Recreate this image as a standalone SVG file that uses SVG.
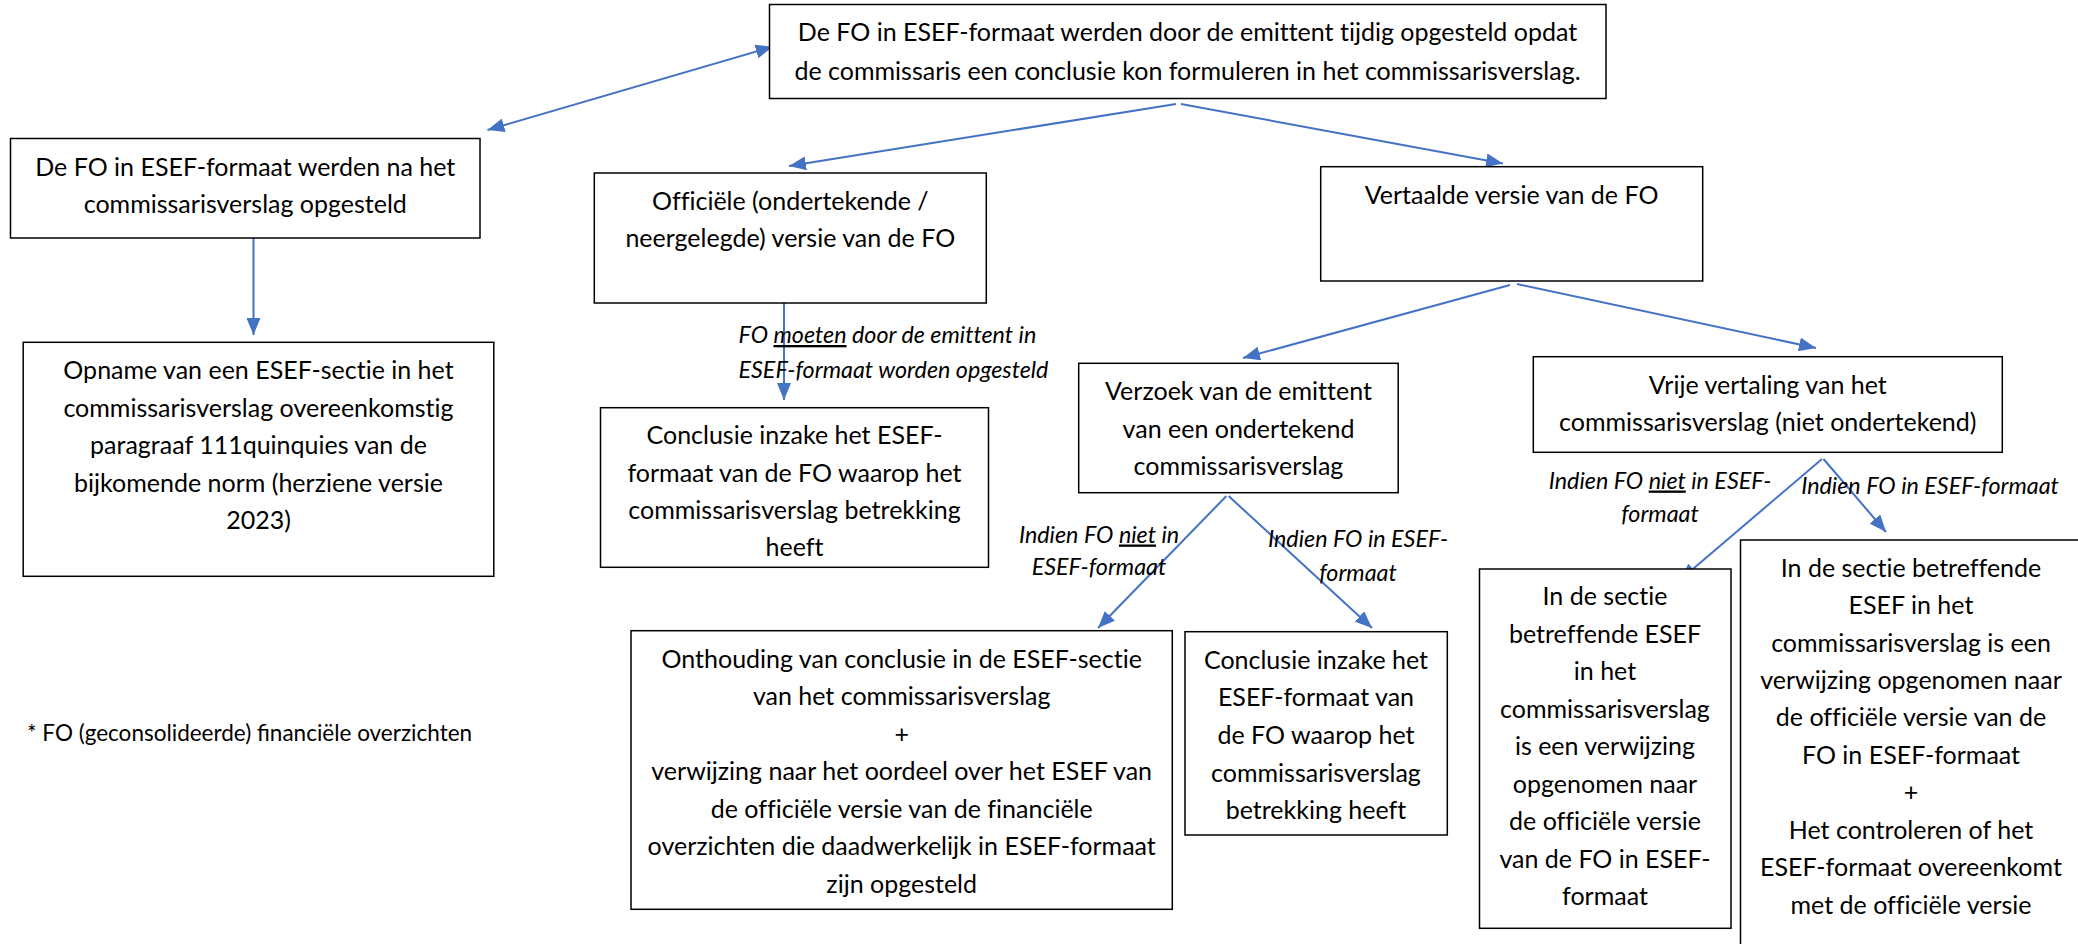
<svg xmlns="http://www.w3.org/2000/svg" width="2078" height="944" viewBox="0 0 2078 944">
<defs>
<style>
.box{fill:#fff;stroke:#000;stroke-width:1.5}
.t{font-family:Lato,"Liberation Sans",sans-serif;font-size:25px;fill:#000;text-anchor:middle;font-variant-ligatures:none}
.l{font-family:Lato,"Liberation Sans",sans-serif;font-size:23.3px;font-style:italic;fill:#000;font-variant-ligatures:none}
.c{fill:none;stroke:#4472C4;stroke-width:2}
.u{text-decoration:underline}
</style>
<marker id="ah" markerUnits="userSpaceOnUse" markerWidth="18" markerHeight="14" refX="17" refY="7" orient="auto-start-reverse">
<path d="M0,0 L17,7 L0,14 z" fill="#4472C4"/>
</marker>
</defs>
<rect width="2078" height="944" fill="#fff"/>

<g id="connectors">
<line class="c" x1="487.5" y1="130" x2="772.7" y2="46.7" marker-start="url(#ah)" marker-end="url(#ah)"/>
<line class="c" x1="1176" y1="104" x2="789" y2="166" marker-end="url(#ah)"/>
<line class="c" x1="1181" y1="104" x2="1503" y2="163.5" marker-end="url(#ah)"/>
<line class="c" x1="253.5" y1="238" x2="253.5" y2="335" marker-end="url(#ah)"/>
<line class="c" x1="784" y1="302" x2="784" y2="400" marker-end="url(#ah)"/>
<line class="c" x1="1510" y1="285" x2="1243" y2="358" marker-end="url(#ah)"/>
<line class="c" x1="1517" y1="284" x2="1816" y2="348" marker-end="url(#ah)"/>
<line class="c" x1="1226.4" y1="496" x2="1098" y2="628" marker-end="url(#ah)"/>
<line class="c" x1="1228.6" y1="496" x2="1372" y2="628" marker-end="url(#ah)"/>
<line class="c" x1="1822" y1="459" x2="1680" y2="580" marker-end="url(#ah)"/>
<line class="c" x1="1823.5" y1="459" x2="1886" y2="532" marker-end="url(#ah)"/>
</g>

<g id="labels">
<text class="l" x="738.5" y="343">FO <tspan class="u">moeten</tspan> door de emittent in</text>
<text class="l" x="738.5" y="377.5">ESEF-formaat worden opgesteld</text>
<text class="l" x="1099" y="542.5" text-anchor="middle">Indien FO <tspan class="u">niet</tspan> in</text>
<text class="l" x="1099" y="574.5" text-anchor="middle">ESEF-formaat</text>
<text class="l" x="1358" y="546.5" text-anchor="middle">Indien FO in ESEF-</text>
<text class="l" x="1358" y="580.5" text-anchor="middle">formaat</text>
<text class="l" x="1660" y="488.5" text-anchor="middle">Indien FO <tspan class="u">niet</tspan> in ESEF-</text>
<text class="l" x="1660" y="521.5" text-anchor="middle">formaat</text>
<text class="l" x="1930" y="493.5" text-anchor="middle">Indien FO in ESEF-formaat</text>
</g>

<g id="n-top">
<rect class="box" x="769.5" y="4.5" width="836.5" height="94"/>
<text class="t" x="1187.5" y="41">De FO in ESEF-formaat werden door de emittent tijdig opgesteld opdat</text>
<text class="t" x="1187.5" y="79.5">de commissaris een conclusie kon formuleren in het commissarisverslag.</text>
</g>

<g id="n-na">
<rect class="box" x="10.5" y="138.5" width="469.5" height="99.5"/>
<text class="t" x="245.3" y="175.5">De FO in ESEF-formaat werden na het</text>
<text class="t" x="245.3" y="212.5">commissarisverslag opgesteld</text>
</g>

<g id="n-opname">
<rect class="box" x="23.2" y="342.3" width="470.6" height="234"/>
<text class="t" x="258.5" y="379">Opname van een ESEF-sectie in het</text>
<text class="t" x="258.5" y="416.5">commissarisverslag overeenkomstig</text>
<text class="t" x="258.5" y="454">paragraaf 111quinquies van de</text>
<text class="t" x="258.5" y="491.5">bijkomende norm (herziene versie</text>
<text class="t" x="258.5" y="529">2023)</text>
</g>

<g id="n-officiele">
<rect class="box" x="594.3" y="173" width="392" height="130"/>
<text class="t" x="790.3" y="210">Officiële (ondertekende /</text>
<text class="t" x="790.3" y="247">neergelegde) versie van de FO</text>
</g>

<g id="n-vertaalde">
<rect class="box" x="1320.7" y="166.7" width="382" height="114.3"/>
<text class="t" x="1511.6" y="203.5">Vertaalde versie van de FO</text>
</g>

<g id="n-conclusie1">
<rect class="box" x="600.5" y="407.7" width="388" height="159.6"/>
<text class="t" x="794.5" y="444">Conclusie inzake het ESEF-</text>
<text class="t" x="794.5" y="482">formaat van de FO waarop het</text>
<text class="t" x="794.5" y="519">commissarisverslag betrekking</text>
<text class="t" x="794.5" y="556">heeft</text>
</g>

<g id="n-verzoek">
<rect class="box" x="1078.7" y="363.3" width="319.5" height="129.4"/>
<text class="t" x="1238.5" y="400">Verzoek van de emittent</text>
<text class="t" x="1238.5" y="437.5">van een ondertekend</text>
<text class="t" x="1238.5" y="475">commissarisverslag</text>
</g>

<g id="n-vrije">
<rect class="box" x="1533.3" y="356.7" width="469" height="95.6"/>
<text class="t" x="1767.8" y="393.5">Vrije vertaling van het</text>
<text class="t" x="1767.8" y="431">commissarisverslag (niet ondertekend)</text>
</g>

<g id="n-onthouding">
<rect class="box" x="631" y="630.7" width="541.3" height="278.6"/>
<text class="t" x="901.7" y="668">Onthouding van conclusie in de ESEF-sectie</text>
<text class="t" x="901.7" y="705">van het commissarisverslag</text>
<text class="t" x="901.7" y="743">+</text>
<text class="t" x="901.7" y="780">verwijzing naar het oordeel over het ESEF van</text>
<text class="t" x="901.7" y="818">de officiële versie van de financiële</text>
<text class="t" x="901.7" y="855">overzichten die daadwerkelijk in ESEF-formaat</text>
<text class="t" x="901.7" y="893">zijn opgesteld</text>
</g>

<g id="n-conclusie2">
<rect class="box" x="1185" y="631.7" width="262.3" height="203.3"/>
<text class="t" x="1316" y="668.5">Conclusie inzake het</text>
<text class="t" x="1316" y="706">ESEF-formaat van</text>
<text class="t" x="1316" y="744">de FO waarop het</text>
<text class="t" x="1316" y="782">commissarisverslag</text>
<text class="t" x="1316" y="818.5">betrekking heeft</text>
</g>

<g id="n-sectie1">
<rect class="box" x="1479.5" y="569" width="251.5" height="359.3"/>
<text class="t" x="1605" y="605">In de sectie</text>
<text class="t" x="1605" y="642.5">betreffende ESEF</text>
<text class="t" x="1605" y="680">in het</text>
<text class="t" x="1605" y="717.5">commissarisverslag</text>
<text class="t" x="1605" y="755">is een verwijzing</text>
<text class="t" x="1605" y="792.5">opgenomen naar</text>
<text class="t" x="1605" y="830">de officiële versie</text>
<text class="t" x="1605" y="867.5">van de FO in ESEF-</text>
<text class="t" x="1605" y="905">formaat</text>
</g>

<g id="n-sectie2">
<rect class="box" x="1740.5" y="540" width="360" height="420"/>
<text class="t" x="1911" y="577">In de sectie betreffende</text>
<text class="t" x="1911" y="614">ESEF in het</text>
<text class="t" x="1911" y="652">commissarisverslag is een</text>
<text class="t" x="1911" y="689">verwijzing opgenomen naar</text>
<text class="t" x="1911" y="726">de officiële versie van de</text>
<text class="t" x="1911" y="763.5">FO in ESEF-formaat</text>
<text class="t" x="1911" y="801">+</text>
<text class="t" x="1911" y="838.5">Het controleren of het</text>
<text class="t" x="1911" y="876">ESEF-formaat overeenkomt</text>
<text class="t" x="1911" y="913.5">met de officiële versie</text>
</g>

<g id="footnote">
<text x="27" y="741" style="font-family:Lato,'Liberation Sans',sans-serif;font-size:22.5px;fill:#000">* FO (geconsolideerde) financiële overzichten</text>
</g>
</svg>
